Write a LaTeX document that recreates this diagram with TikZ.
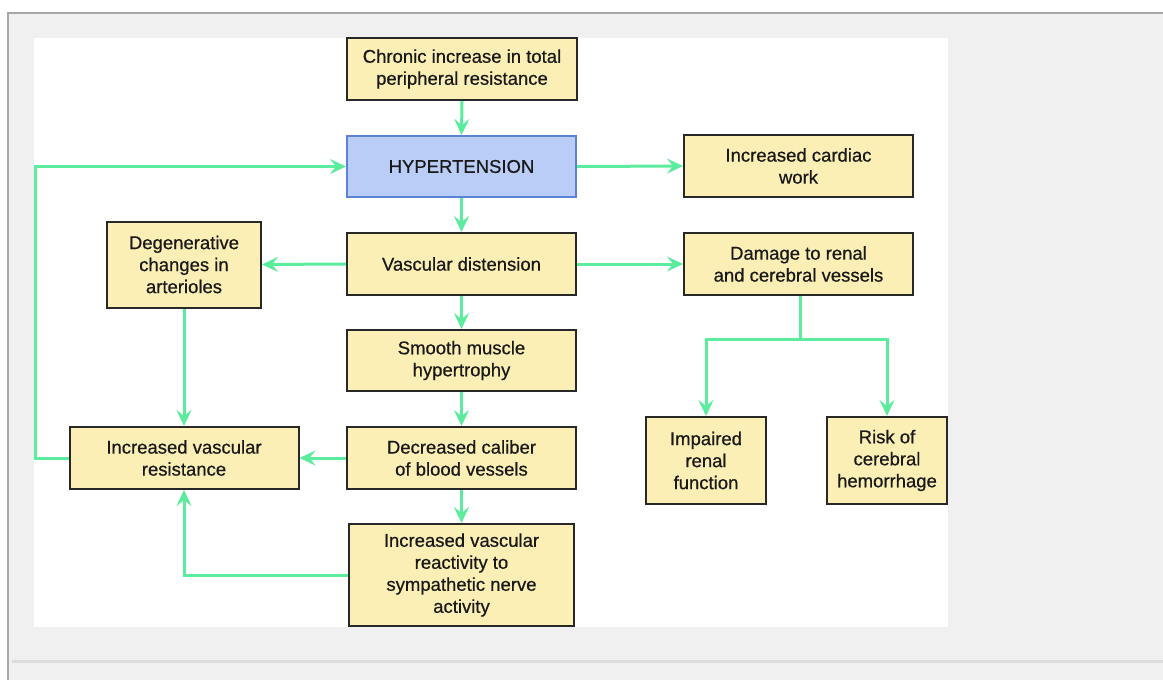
\documentclass[tikz,border=0pt]{standalone}
\usepackage{fontspec}
\setmainfont{Liberation Sans}
\newfontfamily\medfont[FakeBold=0.6]{Liberation Sans}
\usetikzlibrary{arrows.meta}
\definecolor{grn}{RGB}{92,236,158}
\definecolor{ylw}{RGB}{252,239,182}
\definecolor{bluef}{RGB}{186,205,246}
\definecolor{blued}{RGB}{92,132,212}
\definecolor{boxline}{RGB}{40,40,40}
\definecolor{panel}{RGB}{240,240,240}
\definecolor{frame}{RGB}{168,168,168}
\definecolor{sep}{RGB}{220,220,220}
\tikzset{
  box/.style={draw=boxline, line width=2pt, fill=ylw, align=center, inner sep=0pt,
    text=black!90, font=\medfont\fontsize{18.5}{22}\selectfont},
  arr/.style={draw=grn, line width=3pt, -{Stealth[length=16pt,width=15pt,inset=6pt]}},
  ln/.style={draw=grn, line width=3pt}
}
\begin{document}
\begin{tikzpicture}[x=1pt,y=-1pt]
\useasboundingbox (0,0) rectangle (1163,680);
\fill[white] (0,0) rectangle (1163,680);
\fill[panel] (8,12) rectangle (1163,680);
\draw[frame, line width=2pt] (8,680) -- (8,12.5) -- (1163,12.5);
\fill[sep] (12,660) rectangle (1163,663);
\fill[white] (34,38) rectangle (948,627);

\node[box, minimum width=230pt, minimum height=62pt] (chronic) at (462,69) {Chronic increase in total\\peripheral resistance};
\node[box, draw=blued, fill=bluef, minimum width=229pt, minimum height=61pt] (hyp) at (461.5,166.5) {HYPERTENSION};
\node[box, minimum width=229pt, minimum height=62pt] (cardiac) at (798.5,166) {Increased cardiac\\work};
\node[box, minimum width=229pt, minimum height=62pt] (dist) at (461.5,264) {Vascular distension};
\node[box, minimum width=229pt, minimum height=62pt] (damage) at (798.5,264) {Damage to renal\\and cerebral vessels};
\node[box, minimum width=154pt, minimum height=86pt] (degen) at (184,264.5) {Degenerative\\changes in\\arterioles};
\node[box, minimum width=229pt, minimum height=61pt] (smooth) at (461.5,360.5) {Smooth muscle\\hypertrophy};
\node[box, minimum width=229pt, minimum height=62pt] (decr) at (461.5,458) {Decreased caliber\\of blood vessels};
\node[box, minimum width=229pt, minimum height=62pt] (ivr) at (184,458) {Increased vascular\\resistance};
\node[box, minimum width=225pt, minimum height=102pt] (react) at (461.5,575) {Increased vascular\\reactivity to\\sympathetic nerve\\activity};
\node[box, minimum width=120pt, minimum height=87pt] (impaired) at (706,460.5) {Impaired\\renal\\function};
\node[box, minimum width=120pt, minimum height=87pt] (risk) at (887,460.5) {Risk of\\cerebral\\hemorrhage};

\coordinate (lp) at (35,0);
\coordinate (j) at (800,339);

\draw[arr] (chronic.south) -- (hyp.north);
\draw[arr] (hyp.east) -- (cardiac.west);
\draw[arr] (hyp.south) -- (dist.north);
\draw[arr] (dist.west) -- (degen.east);
\draw[arr] (dist.east) -- (damage.west);
\draw[arr] (dist.south) -- (smooth.north);
\draw[arr] (smooth.south) -- (decr.north);
\draw[arr] (decr.west) -- (ivr.east);
\draw[arr] (decr.south) -- (react.north);
\draw[arr] (degen.south) -- (degen.south |- ivr.north);
\draw[arr] (react.west) -| (degen.south |- ivr.south);
\draw[arr] (ivr.west) -| (lp |- hyp.west) -- (hyp.west);
\draw[ln] (damage.south -| j) -- (j);
\draw[arr] (j) -| (impaired.north);
\draw[arr] (j) -| (risk.north);
\end{tikzpicture}
\end{document}
